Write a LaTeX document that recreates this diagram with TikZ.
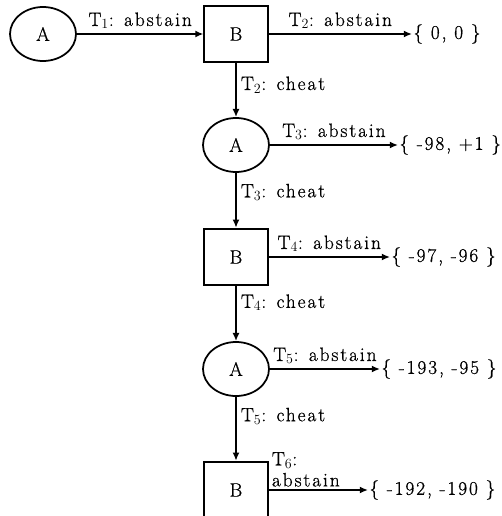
\documentclass[tikz,border=0pt]{standalone}
\usepackage{fontspec}
\setmainfont{Latin Modern Roman}[LetterSpace=10,FakeBold=0.8]
\usetikzlibrary{shapes.geometric,arrows.meta}

\tikzset{
  pa/.style={ellipse,draw,line width=1.5pt,minimum width=1.98cm,minimum height=1.62cm},
  pb/.style={rectangle,draw,line width=1.5pt,minimum width=1.9cm,minimum height=1.7cm},
  move/.style={line width=1.9pt,-{Latex[length=7pt,width=6pt]}},
  payoff/.style={anchor=west,inner sep=1pt},
}

\begin{document}
\begin{tikzpicture}[x=0.3mm,y=-0.3mm,font=\fontsize{16.5}{18}\selectfont]
\useasboundingbox (0,0) rectangle (502,516);

\node[pa] (a1) at (43,34)  {A};
\node[pb] (b1) at (236,34) {B};
\node[pa] (a2) at (236,145) {A};
\node[pb] (b2) at (236,257) {B};
\node[pa] (a3) at (236,369) {A};
\node[pb] (b3) at (236,490) {B};

\node[payoff] (p1) at (412,34)  {\{ 0, 0 \}};
\node[payoff] (p2) at (398,145) {\{ -98, +1 \}};
\node[payoff] (p3) at (390,257) {\{ -97, -96 \}};
\node[payoff] (p4) at (380,369) {\{ -193, -95 \}};
\node[payoff] (p5) at (368,490) {\{ -192, -190 \}};

% abstain moves
\draw[move] (a1) -- node[above] {T$_1$: abstain} (b1);
\draw[move] (b1) -- node[above] {T$_2$: abstain} (p1);
\draw[move] (a2) -- node[above] {T$_3$: abstain} (p2);
\draw[move] (b2) -- node[above] {T$_4$: abstain} (p3);
\draw[move] (a3) -- node[above] {T$_5$: abstain} (p4);
\draw[move] (b3) -- node[pos=0,above right,align=left,inner sep=2pt] {T$_6$:\\abstain} (p5);

% cheat moves
\draw[move] (b1) -- node[right,pos=0.4] {T$_2$: cheat} (a2);
\draw[move] (a2) -- node[right,pos=0.35] {T$_3$: cheat} (b2);
\draw[move] (b2) -- node[right,pos=0.3] {T$_4$: cheat} (a3);
\draw[move] (a3) -- node[right,pos=0.3] {T$_5$: cheat} (b3);

\end{tikzpicture}
\end{document}
